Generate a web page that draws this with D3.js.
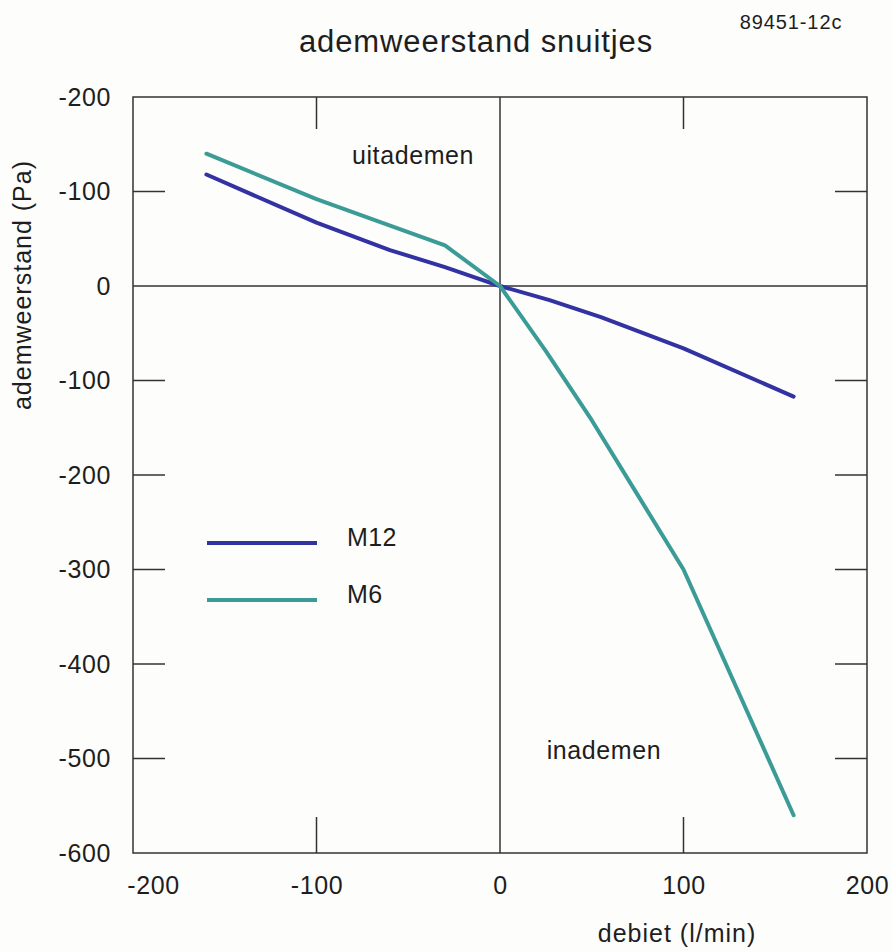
<!DOCTYPE html>
<html>
<head>
<meta charset="utf-8">
<script src="https://cdn.jsdelivr.net/npm/d3@7"></script>
<style>
  body { margin: 0; background: #fdfdfb; }
  svg { display: block; font-family: "Liberation Sans", Arial, sans-serif; }
  text { fill: #1e1e1e; letter-spacing: 0.6px; }
</style>
</head>
<body>
<svg id="chart"></svg>
<script>
// values
const seriesNames = ["M12", "M6"];
const m12Flow = [-160, -100, -60, -30, -15, 0, 27, 55, 100, 160];
const m12Resist = [118, 67, 38, 20, 10, 0, -15, -33, -66, -117];
const m6Flow = [-160, -100, -30, 0, 25, 50, 75, 100, 160];
const m6Resist = [140, 92, 43, 0, -69, -142, -221, -300, -560];

const xTicks = [-200, -100, 0, 100, 200];
const xTickLabels = ["-200", "-100", "0", "100", "200"];
const yTicks = [200, 100, 0, -100, -200, -300, -400, -500, -600];
const yTickLabels = ["-200", "-100", "0", "-100", "-200", "-300", "-400", "-500", "-600"];

const colors = { M12: "#3232a3", M6: "#3b9b97" };

const width = 892, height = 952;
const margin = { top: 97, right: 25, bottom: 99, left: 133 };

const svg = d3.select("#chart")
    .attr("width", width)
    .attr("height", height);

const x = d3.scaleLinear()
    .domain([-200, 200])
    .range([margin.left, width - margin.right]);

const y = d3.scaleLinear()
    .domain([200, -600])
    .range([margin.top, height - margin.bottom]);

// frame
svg.append("rect")
    .attr("x", x(-200))
    .attr("y", y(200))
    .attr("width", x(200) - x(-200))
    .attr("height", y(-600) - y(200))
    .attr("fill", "none")
    .attr("stroke", "#333")
    .attr("stroke-width", 1.5);

// zero cross lines
svg.append("line")
    .attr("x1", x(-200)).attr("x2", x(200))
    .attr("y1", y(0)).attr("y2", y(0))
    .attr("stroke", "#333").attr("stroke-width", 1.5);
svg.append("line")
    .attr("x1", x(0)).attr("x2", x(0))
    .attr("y1", y(200)).attr("y2", y(-600))
    .attr("stroke", "#333").attr("stroke-width", 1.5);

const innerY = yTicks.filter(d => d !== 200 && d !== 0 && d !== -600);
const innerX = xTicks.filter(d => d !== 0 && Math.abs(d) !== 200);

// left axis with labels
const leftAxis = svg.append("g")
    .attr("transform", `translate(${x(-200)},0)`)
    .call(d3.axisLeft(y)
        .tickValues(yTicks)
        .tickSize(0)
        .tickPadding(22)
        .tickFormat((d, i) => yTickLabels[i]));
leftAxis.select(".domain").remove();
leftAxis.selectAll("text").style("font-size", "25px").attr("fill", "#1e1e1e");

// bottom axis with labels
const bottomAxis = svg.append("g")
    .attr("transform", `translate(0,${y(-600)})`)
    .call(d3.axisBottom(x)
        .tickValues(xTicks)
        .tickSize(0)
        .tickPadding(23)
        .tickFormat((d, i) => xTickLabels[i]));
bottomAxis.select(".domain").remove();
bottomAxis.selectAll("text").style("font-size", "25px").attr("fill", "#1e1e1e")
    .attr("dx", d => d === -200 ? 20 : 0);

// inward tick marks on all four sides
const tickLen = 32;
svg.append("g").selectAll("line")
    .data(innerY).join("line")
    .attr("x1", x(-200)).attr("x2", x(-200) + tickLen)
    .attr("y1", d => y(d)).attr("y2", d => y(d))
    .attr("stroke", "#333").attr("stroke-width", 1.5);
svg.append("g").selectAll("line")
    .data(innerY).join("line")
    .attr("x1", x(200)).attr("x2", x(200) - tickLen)
    .attr("y1", d => y(d)).attr("y2", d => y(d))
    .attr("stroke", "#333").attr("stroke-width", 1.5);
svg.append("g").selectAll("line")
    .data(innerX).join("line")
    .attr("x1", d => x(d)).attr("x2", d => x(d))
    .attr("y1", y(200)).attr("y2", y(200) + tickLen)
    .attr("stroke", "#333").attr("stroke-width", 1.5);
svg.append("g").selectAll("line")
    .data(innerX).join("line")
    .attr("x1", d => x(d)).attr("x2", d => x(d))
    .attr("y1", y(-600)).attr("y2", y(-600) - tickLen - 4)
    .attr("stroke", "#333").attr("stroke-width", 1.5);

// series lines
const line = d3.line()
    .x(d => x(d[0]))
    .y(d => y(d[1]));

const series = [
    { name: "M12", points: m12Flow.map((f, i) => [f, m12Resist[i]]) },
    { name: "M6", points: m6Flow.map((f, i) => [f, m6Resist[i]]) }
];

svg.append("g").selectAll("path")
    .data(series).join("path")
    .attr("d", d => line(d.points))
    .attr("fill", "none")
    .attr("stroke", d => colors[d.name])
    .attr("stroke-width", 4)
    .attr("stroke-linejoin", "round")
    .attr("stroke-linecap", "round");

// legend
const legend = svg.append("g");
seriesNames.forEach((name, i) => {
    const ly = 543 + i * 57;
    legend.append("line")
        .attr("x1", 207).attr("x2", 317)
        .attr("y1", ly).attr("y2", ly)
        .attr("stroke", colors[name])
        .attr("stroke-width", 4);
    legend.append("text")
        .attr("x", 347)
        .attr("y", ly + 3)
        .style("font-size", "25px")
        .style("letter-spacing", "0.4px")
        .text(name);
});

// annotations
svg.append("text")
    .attr("x", 413).attr("y", 164)
    .attr("text-anchor", "middle")
    .style("font-size", "25px")
    .text("uitademen");

svg.append("text")
    .attr("x", 604).attr("y", 759)
    .attr("text-anchor", "middle")
    .style("font-size", "25px")
    .text("inademen");

// titles
svg.append("text")
    .attr("x", 476).attr("y", 52)
    .attr("text-anchor", "middle")
    .style("font-size", "31px")
    .style("letter-spacing", "0.9px")
    .text("ademweerstand snuitjes");

svg.append("text")
    .attr("x", 791).attr("y", 29)
    .attr("text-anchor", "middle")
    .style("font-size", "20px")
    .style("letter-spacing", "0.9px")
    .text("89451-12c");

svg.append("text")
    .attr("transform", `translate(31,285) rotate(-90)`)
    .attr("text-anchor", "middle")
    .style("font-size", "25px")
    .style("letter-spacing", "1px")
    .text("ademweerstand (Pa)");

svg.append("text")
    .attr("x", 677).attr("y", 942)
    .attr("text-anchor", "middle")
    .style("font-size", "25px")
    .style("letter-spacing", "1px")
    .text("debiet (l/min)");
</script>
</body>
</html>
